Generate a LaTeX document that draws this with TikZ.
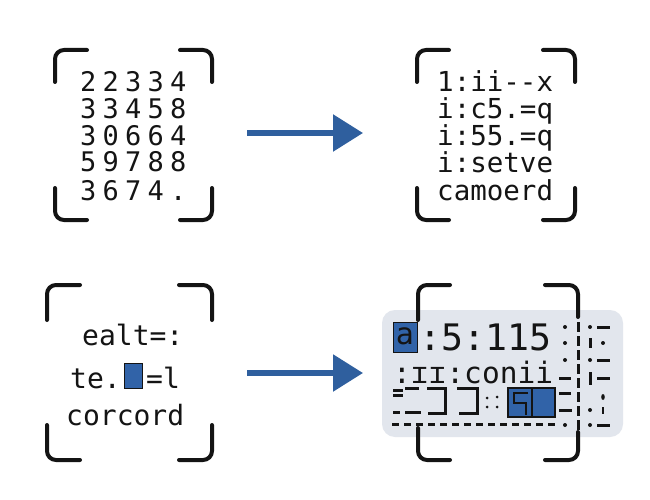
\documentclass[tikz,border=0pt]{standalone}
\usepackage{fontspec}
\newfontfamily\dvm{DejaVu Sans Mono}
\newfontfamily\dvmwide[LetterSpace=23]{DejaVu Sans Mono}
\usetikzlibrary{arrows.meta}
\definecolor{ink}{HTML}{141414}
\definecolor{arrowblue}{HTML}{2F5F9E}
\definecolor{boxblue}{HTML}{3163A8}
\definecolor{panelgray}{HTML}{E2E6ED}
\tikzset{
  bracket/.style={line width=4pt, line cap=round, rounded corners=9pt, draw=ink},
  flow/.style={line width=5.5pt, draw=arrowblue, -{Triangle[length=30pt,width=36pt,fill=arrowblue]}},
  txt/.style={inner sep=0pt, anchor=base west, text=ink},
  junk/.style={line width=3pt, draw=ink}
}
\newcommand\drawbrackets[6]{%
  \draw[bracket] (#1,#2+#6) -- (#1,#2) -- (#1+#5,#2);
  \draw[bracket] (#3-#5,#2) -- (#3,#2) -- (#3,#2+#6);
  \draw[bracket] (#1,#4-#6) -- (#1,#4) -- (#1+#5,#4);
  \draw[bracket] (#3-#5,#4) -- (#3,#4) -- (#3,#4-#6);
}
\begin{document}
\begin{tikzpicture}[x=1pt,y=-1pt]
\useasboundingbox (0,0) rectangle (650,500);
\fill[white] (0,0) rectangle (650,500);

% ---------- top left panel ----------
\drawbrackets{55}{50}{212}{220}{32}{32}
\foreach \row/\yy [count=\i] in {22334/92,33458/118.5,30664/145,59788/171.5,3674./200}
  \node[txt, font=\dvmwide\fontsize{27}{27}\selectfont] (tl\i) at (80,\yy) {\row};

% ---------- top right panel ----------
\drawbrackets{417}{50}{575}{220}{32}{32}
\node[txt, font=\dvm\fontsize{27.5}{27.5}\selectfont] (tr1) at (437,92) {1:ii--x};
\node[txt, font=\dvm\fontsize{27.5}{27.5}\selectfont] (tr2) at (437,119) {i:c5.=q};
\node[txt, font=\dvm\fontsize{27.5}{27.5}\selectfont] (tr3) at (437,146) {i:55.=q};
\node[txt, font=\dvm\fontsize{27.5}{27.5}\selectfont] (tr4) at (437,172) {i:setve};
\node[txt, font=\dvm\fontsize{27.5}{27.5}\selectfont] (tr5) at (437,200) {camoerd};

% ---------- bottom left panel ----------
\drawbrackets{47}{285}{212}{460}{33}{35}
\node[txt, font=\dvm\fontsize{28}{28}\selectfont] (bl1) at (82,345) {ealt=:};
\node[txt, font=\dvm\fontsize{28}{28}\selectfont] (bl2a) at (70,388) {te.};
\fill[boxblue, draw=ink, line width=1pt] (124,363) rectangle (142,388);
\node[txt, font=\dvm\fontsize{28}{28}\selectfont] (bl2c) at (146,388) {=l};
\node[txt, font=\dvm\fontsize{28}{28}\selectfont] (bl3) at (66,425) {corcord};

% ---------- bottom right panel ----------
\fill[panelgray, rounded corners=13pt] (382,310) rectangle (623,437);
% brackets (right side dashed through the box)
\draw[bracket] (418,320) -- (418,285) -- (450,285);
\draw[bracket] (418,428) -- (418,460) -- (450,460);
\draw[bracket] (545,285) -- (578,285) -- (578,317);
\draw[bracket] (545,460) -- (578,460) -- (578,432);
\draw[line width=3pt, draw=ink, dash pattern=on 10pt off 4pt] (578,322) -- (578,430);
% row 1
\fill[boxblue, draw=ink, line width=1pt] (393,322) rectangle (417,352);
\node[inner sep=0pt, text=ink, font=\dvm\fontsize{30}{30}\selectfont] (br0) at (405,336) {a};
\node[txt, text depth=0pt, font=\dvm\fontsize{36.5}{36.5}\selectfont] (br1) at (419,350) {:5:115};
% row 2
\node[txt, text height=20pt, font=\dvm\fontsize{29.5}{29.5}\selectfont] (br2) at (393,383) {:ɪɪ:conii};
% row 3
\draw[junk] (393,390) -- (403,390) (393,395) -- (403,395) (405,388) -- (419,388);
\draw[junk] (427,388) -- (445,388) -- (445,413) -- (428,413);
\draw[junk] (457,388) -- (477,388) -- (477,413) -- (459,413);
\draw[junk] (393,412) -- (400,412) (405,412) -- (421,412);
\foreach \px/\py in {487/398,487/407,497/397,497/407}
  \fill[ink] (\px,\py) circle (1.5pt);
\fill[boxblue, draw=ink, line width=1.2pt] (508,388) rectangle (532,417);
\fill[boxblue, draw=ink, line width=1.2pt] (532,388) rectangle (555,417);
\draw[line width=2.5pt, draw=ink] (528,393) -- (514,393) -- (514,403) -- (526,403) -- (526,415);
% row 4 dashed line
\draw[line width=3pt, draw=ink, dash pattern=on 7pt off 5pt] (392,424) -- (556,424);
% right-hand noise columns
\foreach \py in {327,343,360} \fill[ink] (565,\py) circle (2pt);
\draw[junk] (559,378) -- (571,378) (559,393) -- (571,393) (559,410) -- (572,410);
\fill[ink] (565,425) circle (2pt);
\fill[ink] (590,327) circle (2pt);
\draw[junk] (590,338) -- (590,348);
\fill[ink] (590,360) circle (2pt);
\draw[junk] (590,372) -- (590,385);
\fill[ink] (590,410) circle (2pt);
\fill[ink] (590,425) circle (2pt);
\draw[junk] (597,327) -- (610,327) (597,360) -- (610,360) (597,378) -- (610,378) (597,425) -- (610,425);
\fill[ink] (603,343) circle (2pt);
\fill[ink] (603,397) ellipse (1.8pt and 3pt);
\draw[line width=1.5pt, draw=ink] (603,407) -- (603,414);

% ---------- arrows ----------
\coordinate (a1s) at (247,133);
\coordinate (a1e) at (363,133);
\coordinate (a2s) at (247,373);
\coordinate (a2e) at (363,373);
\draw[flow] (a1s) -- (a1e);
\draw[flow] (a2s) -- (a2e);
\end{tikzpicture}
\end{document}
